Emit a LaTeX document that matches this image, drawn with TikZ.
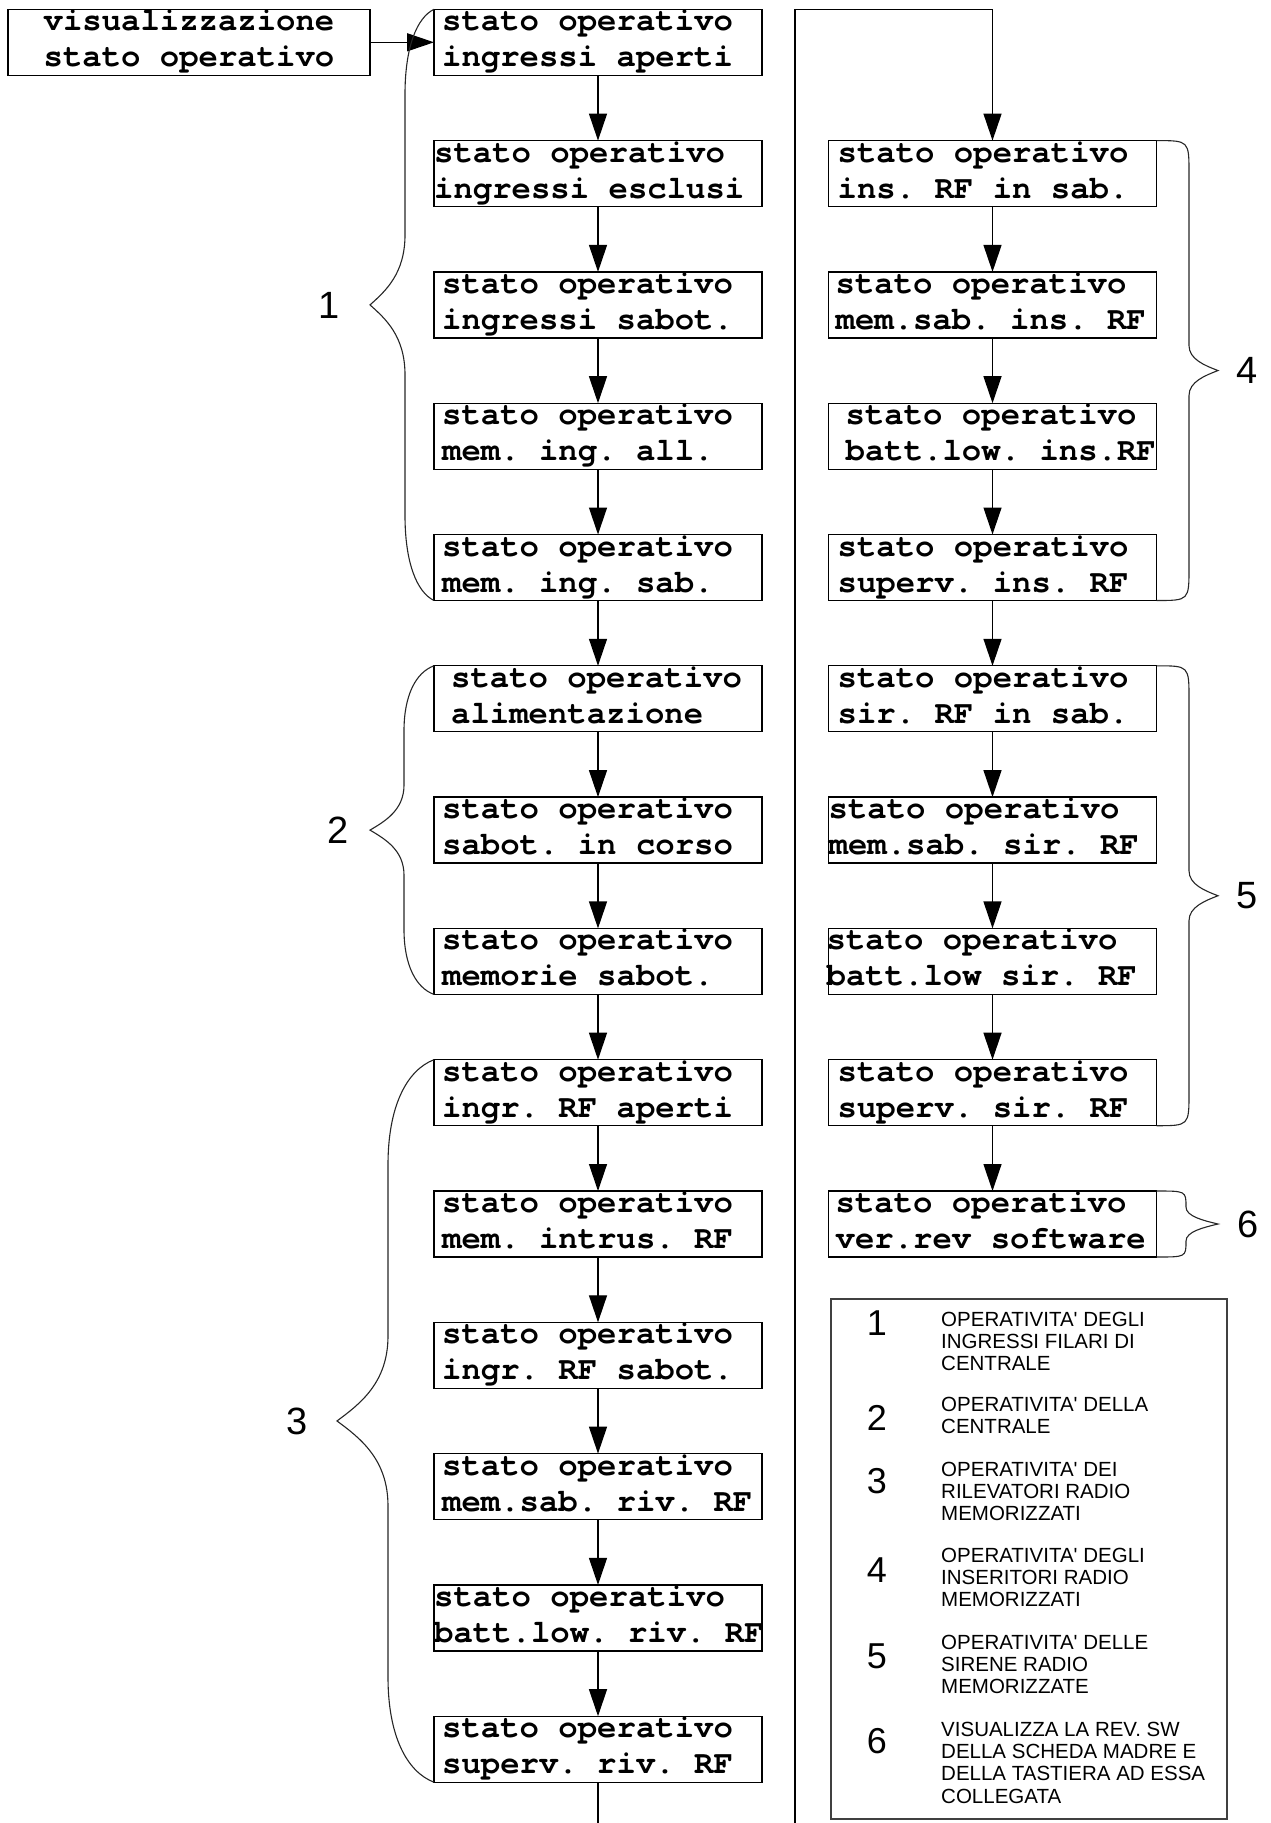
\documentclass[tikz,border=0pt]{standalone}
\usepackage{fontspec}
\setmainfont{Liberation Sans}
\newfontfamily\boxfont{TeX Gyre Cursor}
\usetikzlibrary{arrows.meta}

\tikzset{
  stbox/.style={draw, line width=1.3pt, minimum width=328pt, minimum height=66pt, inner sep=0pt, outer sep=0pt, anchor=north west},
  stline/.style={inner sep=0pt, anchor=base west, font=\boxfont\bfseries\fontsize{32.3}{36}\selectfont\frenchspacing},
  flow/.style={line width=1.3pt, -{Triangle[length=27pt,width=18pt]}},
  plainline/.style={line width=1.3pt},
  brc/.style={line width=1.1pt, black!85},
  blabel/.style={font=\fontsize{38}{40}\selectfont, inner sep=0pt},
  lnum/.style={font=\fontsize{36}{38}\selectfont, inner sep=0pt, anchor=base},
  ltext/.style={font=\fontsize{20.5}{22.2}\selectfont, align=left, inner sep=0pt, anchor=north west},
}

\newcommand\stbx[6]{%
  \node[stbox] (#1) at (#2,#3) {};
  \node[stline] (#1a) at ([xshift=#4pt,yshift=-21.5pt]#1.north west) {#5};
  \node[stline] (#1b) at ([xshift=#4pt,yshift=-57.5pt]#1.north west) {#6};
}

% left brace: x0, yt, yb, xm, xt, rc, rt  (smooth corners)
\newcommand\brcL[7]{%
  \pgfmathsetmacro\bym{(#2+#3)/2}
  \pgfmathsetmacro\bca{#1+0.6*(#4-#1)}
  \pgfmathsetmacro\bta{#5+0.45*(#4-#5)}
  \draw[brc] (#1,#2) .. controls (\bca,#2+0.1*#6) and (#4,#2+0.45*#6) .. (#4,#2+#6)
    -- (#4,\bym-#7) .. controls (#4,\bym-0.45*#7) and (\bta,\bym-0.2*#7) .. (#5,\bym)
    .. controls (\bta,\bym+0.2*#7) and (#4,\bym+0.45*#7) .. (#4,\bym+#7)
    -- (#4,#3-#6) .. controls (#4,#3-0.45*#6) and (\bca,#3-0.1*#6) .. (#1,#3);
}
% right brace: round corners with horizontal start
\newcommand\brcR[7]{%
  \pgfmathsetmacro\bym{(#2+#3)/2}
  \pgfmathsetmacro\bta{#5+0.45*(#4-#5)}
  \draw[brc] (#1,#2) .. controls (#4,#2) .. (#4,#2+#6)
    -- (#4,\bym-#7) .. controls (#4,\bym-0.45*#7) and (\bta,\bym-0.2*#7) .. (#5,\bym)
    .. controls (\bta,\bym+0.2*#7) and (#4,\bym+0.45*#7) .. (#4,\bym+#7)
    -- (#4,#3-#6) .. controls (#4,#3) .. (#1,#3);
}

\begin{document}
\begin{tikzpicture}[x=1pt,y=-1pt]
\useasboundingbox (0,0) rectangle (1270,1823);

% start box
\node[stbox, minimum width=362pt] (V) at (8,9.3) {};
\node[stline, anchor=base] (Va) at ([yshift=-21.5pt]V.north) {visualizzazione};
\node[stline, anchor=base] (Vb) at ([yshift=-57.5pt]V.north) {stato operativo};

% left column
\stbx{L0}{434}{9.3}{8}{stato operativo}{ingressi aperti}
\stbx{L1}{434}{140.6}{0}{stato operativo}{ingressi esclusi}
\stbx{L2}{434}{271.9}{8}{stato operativo}{ingressi sabot.}
\stbx{L3}{434}{403.2}{8}{stato operativo}{mem. ing. all.}
\stbx{L4}{434}{534.5}{8}{stato operativo}{mem. ing. sab.}
\stbx{L5}{434}{665.8}{17}{stato operativo}{alimentazione}
\stbx{L6}{434}{797.1}{8}{stato operativo}{sabot. in corso}
\stbx{L7}{434}{928.4}{8}{stato operativo}{memorie sabot.}
\stbx{L8}{434}{1059.7}{8}{stato operativo}{ingr. RF aperti}
\stbx{L9}{434}{1191.0}{8}{stato operativo}{mem. intrus. RF}
\stbx{L10}{434}{1322.3}{8}{stato operativo}{ingr. RF sabot.}
\stbx{L11}{434}{1453.6}{8}{stato operativo}{mem.sab. riv. RF}
\stbx{L12}{434}{1584.9}{0}{stato operativo}{batt.low. riv. RF}
\stbx{L13}{434}{1716.2}{8}{stato operativo}{superv. riv. RF}

% right column
\stbx{R1}{828.5}{140.6}{9}{stato operativo}{ins. RF in sab.}
\stbx{R2}{828.5}{271.9}{7}{stato operativo}{mem.sab. ins. RF}
\stbx{R3}{828.5}{403.2}{17}{stato operativo}{batt.low. ins.RF}
\stbx{R4}{828.5}{534.5}{9}{stato operativo}{superv. ins. RF}
\stbx{R5}{828.5}{665.8}{9}{stato operativo}{sir. RF in sab.}
\stbx{R6}{828.5}{797.1}{0}{stato operativo}{mem.sab. sir. RF}
\stbx{R7}{828.5}{928.4}{-2}{stato operativo}{batt.low sir. RF}
\stbx{R8}{828.5}{1059.7}{9}{stato operativo}{superv. sir. RF}
\stbx{R9}{828.5}{1191.0}{7}{stato operativo}{ver.rev software}

% connectors
\draw[flow] (V) -- (L0);
\foreach \a/\b in {L0/L1,L1/L2,L2/L3,L3/L4,L4/L5,L5/L6,L6/L7,L7/L8,L8/L9,L9/L10,L10/L11,L11/L12,L12/L13,R1/R2,R2/R3,R3/R4,R4/R5,R5/R6,R6/R7,R7/R8,R8/R9}
  \draw[flow] (\a.south) -- (\b.north);

\coordinate (bottomL) at (598,1823);
\coordinate (bottomR) at (795,1823);
\coordinate (topR) at (795,9.3);
\draw[plainline] (L13.south) -- (L13.south |- bottomL);
\draw[flow] (bottomR) -- (topR) -| (R1.north);

% braces
\brcL{434}{9.3}{600.5}{405}{370}{85}{70}
\brcL{434}{665.8}{994.4}{404}{370}{65}{45}
\brcL{434}{1059.7}{1782.2}{388}{337}{105}{85}
\brcR{1156.5}{140.6}{600.5}{1189}{1218}{33}{25}
\brcR{1156.5}{665.8}{1125.7}{1189}{1218}{33}{25}
\brcR{1156.5}{1191}{1257}{1186}{1218}{16}{17}

\node[blabel] (g1) at (329,305) {1};
\node[blabel] (g2) at (338,830) {2};
\node[blabel] (g3) at (297,1421) {3};
\node[blabel] (g4) at (1247,370) {4};
\node[blabel] (g5) at (1247,896) {5};
\node[blabel] (g6) at (1248,1224) {6};

% legend
\node[draw, line width=2pt, black!75, minimum width=396pt, minimum height=520pt, inner sep=0pt, anchor=north west] (leg) at (830,1298) {};
\node[lnum] (n1) at (877,1335) {1};
\node[lnum] (n2) at (877,1430) {2};
\node[lnum] (n3) at (877,1493) {3};
\node[lnum] (n4) at (877,1582) {4};
\node[lnum] (n5) at (877,1668) {5};
\node[lnum] (n6) at (877,1753) {6};
\node[ltext] (t1) at (941,1312) {OPERATIVITA\textquotesingle{} DEGLI\\INGRESSI FILARI DI\\CENTRALE};
\node[ltext] (t2) at (941,1397) {OPERATIVITA\textquotesingle{} DELLA\\CENTRALE};
\node[ltext] (t3) at (941,1462) {OPERATIVITA\textquotesingle{} DEI\\RILEVATORI RADIO\\MEMORIZZATI};
\node[ltext] (t4) at (941,1548) {OPERATIVITA\textquotesingle{} DEGLI\\INSERITORI RADIO\\MEMORIZZATI};
\node[ltext] (t5) at (941,1635) {OPERATIVITA\textquotesingle{} DELLE\\SIRENE RADIO\\MEMORIZZATE};
\node[ltext] (t6) at (941,1722) {VISUALIZZA LA REV. SW\\DELLA SCHEDA MADRE E\\DELLA TASTIERA AD ESSA\\COLLEGATA};
\end{tikzpicture}
\end{document}
